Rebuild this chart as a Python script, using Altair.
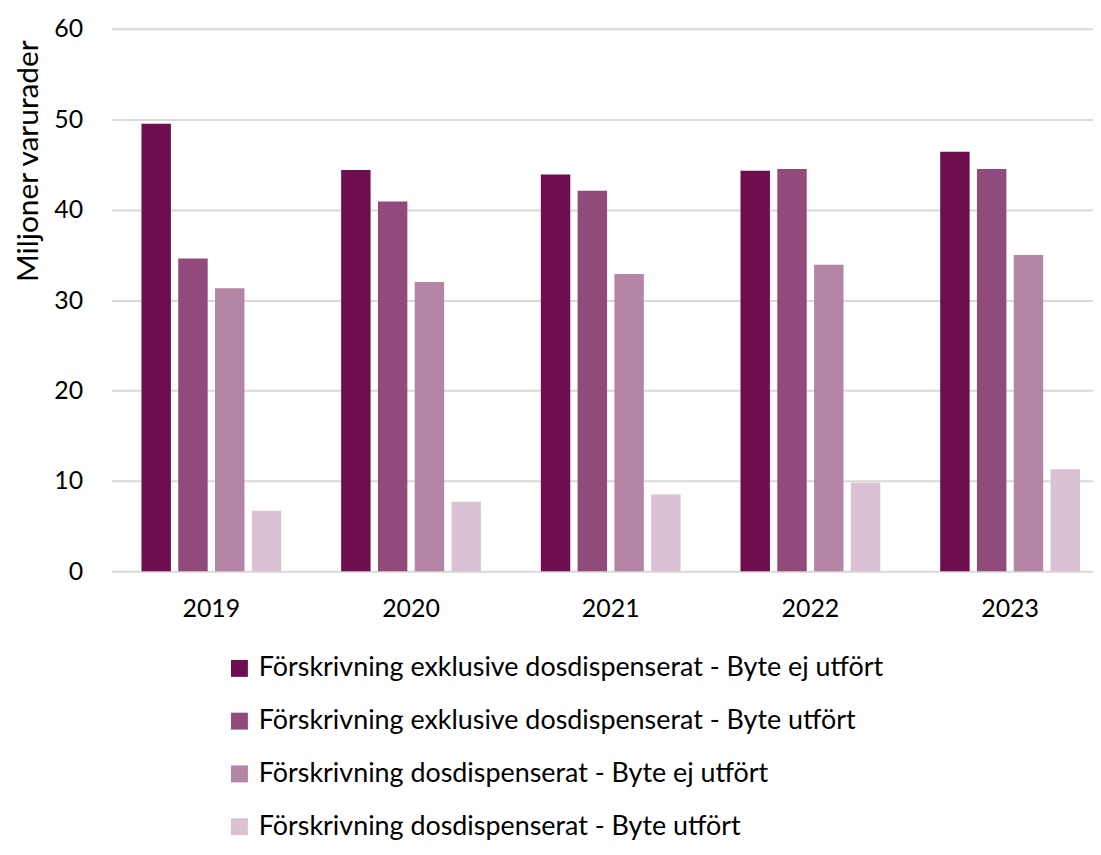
import altair as alt
import pandas as pd

years = ["2019", "2020", "2021", "2022", "2023"]
series = [
    "Förskrivning exklusive dosdispenserat - Byte ej utfört",
    "Förskrivning exklusive dosdispenserat - Byte utfört",
    "Förskrivning dosdispenserat - Byte ej utfört",
    "Förskrivning dosdispenserat - Byte utfört",
]
s1 = [49.5, 44.4, 43.9, 44.3, 46.4]
s2 = [34.6, 40.9, 42.1, 44.5, 44.5]
s3 = [31.3, 32.0, 32.9, 33.9, 35.0]
s4 = [6.7, 7.7, 8.5, 9.8, 11.3]
colors = ["#6E0E4E", "#914A7C", "#B585A6", "#DBC1D4"]

rows = []
for name, vals in zip(series, [s1, s2, s3, s4]):
    for y, v in zip(years, vals):
        rows.append({"År": y, "Serie": name, "Värde": v})
df = pd.DataFrame(rows)

FONT = "Lato"

chart = alt.Chart(df).mark_bar().encode(
    x=alt.X("År:N", sort=years,
            scale=alt.Scale(paddingInner=0.3, paddingOuter=0.15, range=[2, 1005]),
            axis=alt.Axis(title=None, labelAngle=0, domain=False, ticks=False,
                          labelPadding=25, labelFontSize=25, labelColor="#000000",
                          labelFont=FONT)),
    xOffset=alt.XOffset("Serie:N", sort=series,
                        scale=alt.Scale(paddingInner=0.2, paddingOuter=0)),
    y=alt.Y("Värde:Q",
            scale=alt.Scale(domain=[0, 60], nice=False),
            axis=alt.Axis(values=[0, 10, 20, 30, 40, 50, 60], title="Miljoner varurader",
                          titleFontSize=30, titleFont=FONT, titleFontWeight="normal",
                          titleColor="#000000", titleX=-66, titleY=11,
                          titleAlign="right", titleAngle=270, titleBaseline="bottom",
                          domain=False, ticks=False, labelPadding=27,
                          labelFontSize=25, labelFont=FONT, labelColor="#000000",
                          gridColor="#D9D9D9", gridWidth=2)),
    color=alt.Color("Serie:N", sort=series,
                    scale=alt.Scale(domain=series, range=colors),
                    legend=alt.Legend(title=None, orient="none", legendX=117, legendY=629,
                                      direction="vertical", symbolType="square",
                                      symbolSize=289, symbolStrokeWidth=0,
                                      labelFont=FONT, labelFontSize=27, labelColor="#000000",
                                      rowPadding=25, labelOffset=6, labelLimit=0)),
).properties(
    width=983, height=545,
    autosize=alt.AutoSizeParams(type="none"),
    padding={"top": 19, "left": 102, "right": 5, "bottom": 279},
).configure_view(stroke=None)

chart.save("out.html", embed_options={"renderer": "svg", "actions": False})
